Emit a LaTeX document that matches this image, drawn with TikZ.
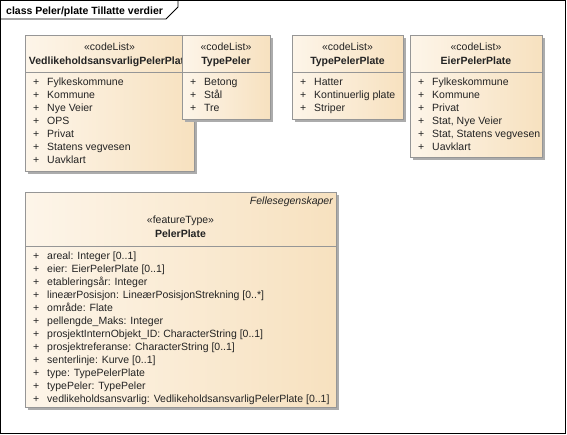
\documentclass[tikz,border=0pt]{standalone}
\usepackage{fontspec}
\setmainfont{Liberation Sans}
\usetikzlibrary{positioning,shadows}
\definecolor{ink}{RGB}{35,35,35}
\definecolor{umlline}{RGB}{150,150,150}
\definecolor{umlshadow}{RGB}{172,172,172}
\definecolor{umllight}{RGB}{253,245,233}
\definecolor{umldark}{RGB}{247,225,191}
\newcommand{\plusitem}[1]{\makebox[14pt][l]{+}#1}
\tikzset{
  classbox/.style={draw=umlline,line width=0.8pt,left color=umllight,right color=umldark,
    drop shadow={shadow xshift=3pt,shadow yshift=-3pt,fill=umlshadow,opacity=1},
    anchor=north west,inner sep=0pt},
  divider/.style={draw=umlline,line width=0.8pt},
  umltext/.style={font=\fontsize{10.5}{13}\selectfont,text=ink,inner sep=0pt,anchor=base},
  classname/.style={umltext,font=\fontsize{10.5}{13}\selectfont\bfseries},
  listitem/.style={umltext,anchor=base west},
}

\begin{document}
\begin{tikzpicture}[x=1pt,y=-1pt]
  \useasboundingbox (0,0) rectangle (567,435);
  % diagram frame and tab
  \draw[line width=0.8pt] (0.5,0.5) rectangle (565.5,433.5);
  \draw[line width=0.8pt] (0.5,19) -- (166,19) -- (178,7) -- (178,0.5);
  \node[umltext,anchor=base west,font=\fontsize{10.5}{13}\selectfont\bfseries,text=black] (title) at (6,14.5) {class Peler/plate Tillatte verdier};

  % codeList: VedlikeholdsansvarligPelerPlate
  \node[classbox,minimum width=169pt,minimum height=136pt] (vedl) at (25,35) {};
  \node[umltext] (vedl-st) at (109.5,51) {«codeList»};
  \node[classname] (vedl-nm) at (109.5,65) {VedlikeholdsansvarligPelerPlate};
  \draw[divider] ([yshift=-37pt]vedl.north west) -- ([yshift=-37pt]vedl.north east);
  \foreach \t [count=\i] in {Fylkeskommune,Kommune,Nye Veier,OPS,Privat,Statens vegvesen,Uavklart}
    \node[listitem] (vedl-\i) at (33,{72.5+13*\i}) {\plusitem{\t}};

  % codeList: TypePeler
  \node[classbox,minimum width=88pt,minimum height=84pt] (typepeler) at (182,35) {};
  \node[umltext] (typepeler-st) at (226,51) {«codeList»};
  \node[classname] (typepeler-nm) at (226,65) {TypePeler};
  \draw[divider] ([yshift=-37pt]typepeler.north west) -- ([yshift=-37pt]typepeler.north east);
  \foreach \t [count=\i] in {Betong,Stål,Tre}
    \node[listitem] (typepeler-\i) at (190,{72.5+13*\i}) {\plusitem{\t}};

  % codeList: TypePelerPlate
  \node[classbox,minimum width=111pt,minimum height=84pt] (typeplate) at (292,35) {};
  \node[umltext] (typeplate-st) at (347.5,51) {«codeList»};
  \node[classname] (typeplate-nm) at (347.5,65) {TypePelerPlate};
  \draw[divider] ([yshift=-37pt]typeplate.north west) -- ([yshift=-37pt]typeplate.north east);
  \foreach \t [count=\i] in {Hatter,Kontinuerlig plate,Striper}
    \node[listitem] (typeplate-\i) at (300,{72.5+13*\i}) {\plusitem{\t}};

  % codeList: EierPelerPlate
  \node[classbox,minimum width=132pt,minimum height=122pt] (eier) at (410,35) {};
  \node[umltext] (eier-st) at (476,51) {«codeList»};
  \node[classname] (eier-nm) at (476,65) {EierPelerPlate};
  \draw[divider] ([yshift=-37pt]eier.north west) -- ([yshift=-37pt]eier.north east);
  \foreach \t [count=\i] in {Fylkeskommune,Kommune,Privat,{Stat, Nye Veier},{Stat, Statens vegvesen},Uavklart}
    \node[listitem] (eier-\i) at (418,{72.5+13*\i}) {\plusitem{\t}};

  % featureType: PelerPlate
  \node[classbox,minimum width=311pt,minimum height=215pt] (pelerplate) at (25,192) {};
  \node[umltext,anchor=base east,font=\fontsize{10.5}{13}\selectfont\itshape] (pelerplate-tag) at (333,204.5) {Fellesegenskaper};
  \node[umltext] (pelerplate-st) at (180.5,223.5) {«featureType»};
  \node[classname] (pelerplate-nm) at (180.5,237.5) {PelerPlate};
  \draw[divider] ([yshift=-54pt]pelerplate.north west) -- ([yshift=-54pt]pelerplate.north east);
  \foreach \t [count=\i] in {areal: Integer [0..1],eier: EierPelerPlate [0..1],etableringsår: Integer,
      lineærPosisjon: LineærPosisjonStrekning [0..*],område: Flate,pellengde\_Maks: Integer,
      prosjektInternObjekt\_ID: CharacterString [0..1],prosjektreferanse: CharacterString [0..1],
      senterlinje: Kurve [0..1],type: TypePelerPlate,typePeler: TypePeler,
      vedlikeholdsansvarlig: VedlikeholdsansvarligPelerPlate [0..1]}
    \node[listitem] (pelerplate-\i) at (33,{246.5+13*\i}) {\plusitem{\t}};
\end{tikzpicture}
\end{document}
